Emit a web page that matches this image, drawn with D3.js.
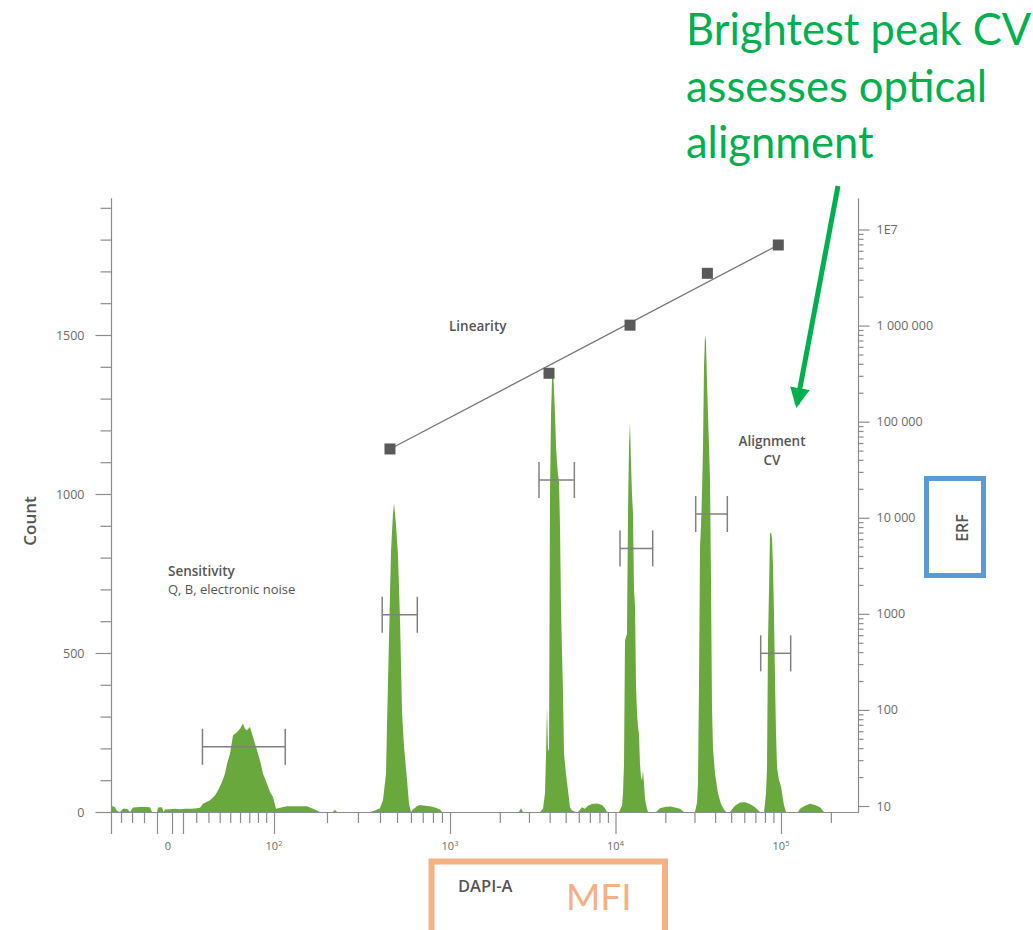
<!DOCTYPE html>
<html>
<head>
<meta charset="utf-8">
<script src="https://cdn.jsdelivr.net/npm/d3@7"></script>
<style>
  body { margin: 0; background: #fff; }
  svg { display: block; }
  .axis line, .axis path { stroke: #8c8c8c; stroke-width: 1.2; }
</style>
</head>
<body>
<div id="chart"></div>
<script>
// page size
const W = 1033;
const H = 930;

// histogram, [MFI, count]
var noiseLow = [[-48.7,19],[-45.7,15],[-43.8,3],[-40.9,0],[-38.1,10],[-34.5,10],[-31.8,0],[-29.2,14],[-23.3,16],[-19.2,16],[-15.3,15],[-13.7,0],[-10,0],[-9.3,14],[-6.6,15],[-5.5,0],[-4.5,8],[-1.3,9],[2.6,10],[7.2,9],[11.5,10],[15.2,10],[19,11]];
var sensitivityPeak = [[23,13],[25.4,26],[31.4,37],[35.7,52],[38.4,68],[42.1,94],[44.9,120],[46.9,152],[49.8,183],[52.8,241],[56.8,251],[60,262],[63.1,278],[65.3,262],[67.5,257],[70.8,267],[74.2,236],[78.9,194],[82.4,162],[86.1,120],[91,89],[94.8,63],[98.7,47],[102.6,10],[105.4,12],[118.6,18],[154,18],[175.5,5],[182.6,0],[216,0],[222,7],[228,0]];
var bead1 = [[351,0],[375,5],[400,12],[416,37],[433,120],[438,257],[450,540],[462,818],[474,937],[481,970],[493,905],[506,812],[520,603],[534,310],[548,205],[570,100],[585,26],[600,0],[616,8],[649,18],[675,22],[721,20],[770,18],[822,14],[878,8],[901,0]];
var bead2 = [[2612,0],[2685,12],[2761,0],[3499,0],[3647,10],[3750,60],[3803,180],[3856,330],[3910,190],[3965,200],[4020,1000],[4077,1250],[4134,1360],[4192,1385],[4250,1330],[4310,1250],[4370,1150],[4432,1100],[4494,1060],[4556,1040],[4620,900],[4685,645],[4751,500],[4817,372],[4884,183],[5022,120],[5164,68],[5311,15],[5461,5],[5772,0],[5935,0],[6276,15],[6543,10],[6822,20],[7211,25],[7729,27],[8285,22],[8643,12],[8882,0]];
var bead3 = [[10498,0],[10946,20],[11100,58],[11256,150],[11412,540],[11572,550],[11735,560],[11900,940],[12066,1150],[12235,1226],[12405,1100],[12579,1000],[12755,940],[12933,700],[13114,650],[13298,400],[13484,310],[13673,270],[13865,245],[14060,150],[14258,110],[14459,100],[14662,130],[14868,90],[15077,40],[15503,10],[15720,0],[17571,0],[18578,12],[19914,16],[21346,17],[22879,14],[24524,10],[25934,0]];
var bead4 = [[30226,0],[31076,30],[31511,90],[31956,400],[32404,833],[32858,900],[33319,1000],[33786,1150],[34256,1400],[34740,1500],[35226,1480],[35722,1350],[36224,1250],[36728,1150],[37239,1044],[37757,730],[38289,330],[38824,200],[39924,120],[41623,58],[43402,25],[45254,8],[46530,0],[49170,0],[52723,20],[56545,30],[60623,31],[64963,25],[69658,15],[74677,0]];
var bead5 = [[78955,0],[81187,60],[82318,140],[83479,540],[84644,700],[85822,875],[87033,880],[88246,860],[89491,770],[90738,620],[92000,415],[93283,250],[94584,140],[97259,100],[100000,80],[104255,21],[107203,0],[126650,0],[130270,10],[139640,20],[149700,26],[160500,22],[172050,15],[181900,0]];

// CV gates: low / high MFI and the count they sit at
var cvLow   = [25, 412, 3450, 10650, 30520, 75400];
var cvHigh  = [115.9, 652, 5640, 16780, 47380, 114400];
var cvCount = [205, 620, 1044, 829, 937, 499];

// linearity points (MFI vs ERF)
var linMfi = [456, 3965, 12240, 35900, 96300];
var linErf = [52000, 319000, 1010000, 3500000, 6900000];

// ticks
var countTicks = [0,100,200,300,400,500,600,700,800,900,1000,1100,1200,1300,1400,1500,1600,1700,1800,1900];
var countLabels = [0, 500, 1000, 1500];
var lowTicks = [-40,-30,-20,-10,0,10,20,30,40,50,60,70,80,90];
var lowMajors = [-10, 0, 10];
var highTicks = [100,200,300,400,500,600,700,800,900,1000,2000,3000,4000,5000,6000,7000,8000,9000,10000,20000,30000,40000,50000,60000,70000,80000,90000,100000,200000];
var highMajors = [100, 1000, 10000, 100000];
var xLabelValues = [0, 100, 1000, 10000, 100000];
var xLabelExp = ["", "2", "3", "4", "5"];
var erfMajors = [10, 100, 1000, 10000, 100000, 1000000, 10000000];
var erfLabels = ["10", "100", "1000", "10 000", "100 000", "1 000 000", "1E7"];

var svg = d3.select("#chart")
  .append("svg")
  .attr("width", W)
  .attr("height", H);

// scales: biexponential-ish display, linear-ish around zero, log above 100
var xLow = d3.scaleSymlog().constant(100)
  .domain([-40, -10, 0, 10, 100])
  .range([121, 157, 172, 183, 274]);
var xHigh = d3.scaleLog()
  .domain([100, 1000, 100000, 300000])
  .range([274, 450, 781, 860]);
function x(v) { return v < 100 ? xLow(v) : xHigh(v); }

var yCount = d3.scaleLinear().domain([0, 1500]).range([812, 335]);
var yErf = d3.scaleLog().domain([10, 10000000]).range([806, 229.5]);

var green = "#69a83c";
var axisGrey = "#8c8c8c";
var textGrey = "#6a6a6a";
var labelGrey = "#555";

// histogram
var hist = noiseLow.concat(sensitivityPeak, bead1, bead2, bead3, bead4, bead5);
var area = d3.area()
  .x(function(d) { return x(d[0]); })
  .y0(yCount(0))
  .y1(function(d) { return yCount(d[1]); });
svg.append("path")
  .datum(hist)
  .attr("d", area)
  .attr("fill", green);

// left axis
var yAx = svg.append("g")
  .attr("class", "axis")
  .attr("transform", "translate(111.5,0)")
  .call(d3.axisLeft(yCount).tickValues(countTicks).tickSize(11)
    .tickFormat(function(d) { return countLabels.indexOf(d) >= 0 ? d : ""; }));
yAx.select(".domain").remove();
yAx.selectAll(".tick line").filter(function(d) { return countLabels.indexOf(d) >= 0; }).attr("x2", -16);
yAx.selectAll(".tick text")
  .attr("x", -27)
  .attr("fill", textGrey)
  .style("font-family", "Open Sans")
  .style("font-size", "12.5px");
svg.append("line")
  .attr("x1", 111.5).attr("x2", 111.5)
  .attr("y1", yCount(1930)).attr("y2", 834)
  .attr("stroke", axisGrey).attr("stroke-width", 1.2);

// right axis (ERF, log)
var erfTicks = [];
erfMajors.forEach(function(m, i) {
  erfTicks.push(m);
  if (i < erfMajors.length - 1) [2,3,4,5,6,7,8,9].forEach(function(k) { erfTicks.push(m * k); });
});
var rAx = svg.append("g")
  .attr("class", "axis")
  .attr("transform", "translate(858.5,0)")
  .call(d3.axisRight(yErf).tickValues(erfTicks).tickSize(5)
    .tickFormat(function(d) { var i = erfMajors.indexOf(d); return i >= 0 ? erfLabels[i] : ""; }));
rAx.select(".domain").remove();
rAx.selectAll(".tick line").filter(function(d) { return erfMajors.indexOf(d) >= 0; }).attr("x2", 11);
rAx.selectAll(".tick text")
  .attr("x", 18)
  .attr("fill", textGrey)
  .style("font-family", "Open Sans")
  .style("font-size", "12.5px");
svg.append("line")
  .attr("x1", 858.5).attr("x2", 858.5)
  .attr("y1", yCount(1930)).attr("y2", yCount(0))
  .attr("stroke", axisGrey).attr("stroke-width", 1.2);

// bottom axis
var xAxLow = svg.append("g")
  .attr("class", "axis")
  .attr("transform", "translate(0," + yCount(0) + ")")
  .call(d3.axisBottom(xLow).tickValues(lowTicks).tickSize(11).tickFormat(""));
xAxLow.select(".domain").remove();
xAxLow.selectAll(".tick line").filter(function(d) { return lowMajors.indexOf(d) >= 0; }).attr("y2", 22);
var xAxHigh = svg.append("g")
  .attr("class", "axis")
  .attr("transform", "translate(0," + yCount(0) + ")")
  .call(d3.axisBottom(xHigh).tickValues(highTicks).tickSize(11).tickFormat(""));
xAxHigh.select(".domain").remove();
xAxHigh.selectAll(".tick line").filter(function(d) { return highMajors.indexOf(d) >= 0; }).attr("y2", 22);
svg.append("line")
  .attr("x1", 111).attr("x2", 859)
  .attr("y1", yCount(0) + 0.5).attr("y2", yCount(0) + 0.5)
  .attr("stroke", axisGrey).attr("stroke-width", 1.2);

var xl = svg.selectAll(".xlab")
  .data(xLabelValues)
  .enter()
  .append("text")
  .attr("class", "xlab")
  .attr("x", function(d) { return d === 0 ? x(d) - 4 : x(d); })
  .attr("y", 850)
  .attr("text-anchor", "middle")
  .attr("fill", textGrey)
  .style("font-family", "Open Sans")
  .style("font-size", "11px");
xl.append("tspan").text(function(d, i) { return xLabelExp[i] ? "10" : "0"; });
xl.append("tspan")
  .attr("dy", -4)
  .style("font-size", "7.5px")
  .text(function(d, i) { return xLabelExp[i]; });

// CV gates
var capH = 18;
cvLow.forEach(function(lo, i) {
  var g = svg.append("g").attr("stroke", "#808080").attr("stroke-width", 1.5);
  var yy = yCount(cvCount[i]);
  g.append("line").attr("x1", x(lo)).attr("x2", x(cvHigh[i])).attr("y1", yy).attr("y2", yy);
  g.append("line").attr("x1", x(lo)).attr("x2", x(lo)).attr("y1", yy - capH).attr("y2", yy + capH);
  g.append("line").attr("x1", x(cvHigh[i])).attr("x2", x(cvHigh[i])).attr("y1", yy - capH).attr("y2", yy + capH);
});

// linearity line and points
var lin = linMfi.map(function(m, i) { return [m, linErf[i]]; });
svg.append("path")
  .datum([lin[0], lin[lin.length - 1]])
  .attr("d", d3.line().x(function(d) { return x(d[0]); }).y(function(d) { return yErf(d[1]); }))
  .attr("stroke", "#777")
  .attr("stroke-width", 1.3)
  .attr("fill", "none");
svg.selectAll(".sq")
  .data(lin)
  .enter()
  .append("rect")
  .attr("class", "sq")
  .attr("x", function(d) { return x(d[0]) - 5.5; })
  .attr("y", function(d) { return yErf(d[1]) - 5.5; })
  .attr("width", 11)
  .attr("height", 11)
  .attr("fill", "#595959");

// chart labels
function label(txt, px, py, size, weight, anchor, rot) {
  var t = svg.append("text")
    .attr("x", px).attr("y", py)
    .attr("fill", labelGrey)
    .attr("text-anchor", anchor || "start")
    .style("font-family", "Open Sans")
    .style("font-size", size + "px")
    .style("font-weight", weight)
    .text(txt);
  if (rot) t.attr("transform", "rotate(-90," + px + "," + py + ")");
  return t;
}
label("Count", 36, 521, 17, 600, "middle", true);
label("ERF", 968, 528, 16, 600, "middle", true);
label("DAPI-A", 458, 892, 16.5, 600);
label("Sensitivity", 168, 576, 13.5, 600);
label("Q, B, electronic noise", 168, 594, 13, 400);
label("Linearity", 449, 331, 13.5, 600);
label("Alignment", 772, 446, 13.5, 600, "middle");
label("CV", 772, 465, 13.5, 600, "middle");

// annotation overlays
svg.append("rect")
  .attr("x", 431.5).attr("y", 861.5).attr("width", 233.5).attr("height", 90)
  .attr("fill", "none").attr("stroke", "#F4B183").attr("stroke-width", 6);
svg.append("text")
  .attr("x", 566).attr("y", 910)
  .attr("fill", "#F4B183")
  .style("font-family", "Lato")
  .style("font-size", "37px")
  .text("MFI");

svg.append("rect")
  .attr("x", 926.5).attr("y", 478.5).attr("width", 57).attr("height", 97)
  .attr("fill", "none").attr("stroke", "#5B9BD5").attr("stroke-width", 5);

var note = ["Brightest peak CV", "assesses optical", "alignment"];
svg.selectAll(".note")
  .data(note)
  .enter()
  .append("text")
  .attr("class", "note")
  .attr("x", 686)
  .attr("y", function(d, i) { return 45 + i * 56.7; })
  .attr("fill", "#00B050")
  .style("font-family", "Lato")
  .style("font-size", "43.5px")
  .text(function(d) { return d; });

svg.append("defs").append("marker")
  .attr("id", "arrow")
  .attr("viewBox", "0 0 10 10")
  .attr("refX", 8).attr("refY", 5)
  .attr("markerWidth", 4).attr("markerHeight", 4)
  .attr("markerUnits", "strokeWidth")
  .attr("orient", "auto")
  .append("path")
  .attr("d", "M0,0 L10,5 L0,10 z")
  .attr("fill", "#00B050");
svg.append("line")
  .attr("x1", 838).attr("y1", 186)
  .attr("x2", 797).attr("y2", 404)
  .attr("stroke", "#00B050")
  .attr("stroke-width", 5)
  .attr("marker-end", "url(#arrow)");
</script>
</body>
</html>
